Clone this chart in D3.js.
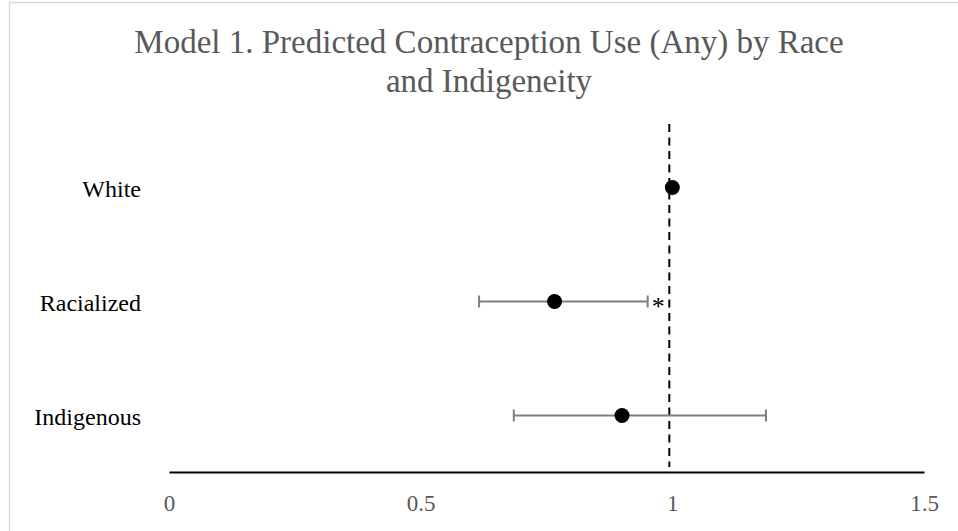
<!DOCTYPE html>
<html>
<head>
<meta charset="utf-8">
<script src="https://cdn.jsdelivr.net/npm/d3@7"></script>
<style>
  body { margin: 0; background: #fff; }
  svg { display: block; font-family: "Liberation Serif", "Times New Roman", serif; }
</style>
</head>
<body>
<svg class="forestChart"></svg>
<script>
// chart data
var categories = ["White", "Racialized", "Indigenous"];
var estimates = [1.0, 0.766, 0.90];
var lowerCI = [null, 0.616, 0.685];
var upperCI = [null, 0.951, 1.186];
var stars = ["", "*", ""];
var tickValues = [0, 0.5, 1, 1.5];
var tickLabels = ["0", "0.5", "1", "1.5"];
var titleLines = ["Model 1. Predicted Contraception Use (Any) by Race", "and Indigeneity"];
var refValue = 0.994;  // the dashed reference line, drawn by hand slightly left of 1

var data = categories.map(function(c, i) {
  return {name: c, est: estimates[i], lo: lowerCI[i], hi: upperCI[i], star: stars[i]};
});

var width = 958, height = 531;

// scales
var x = d3.scaleLinear()
    .domain([0, 1.5])
    .range([169, 924]);

var y = d3.scaleBand()
    .domain(categories)
    .range([130.5, 472.5]);

var yc = function(name) { return y(name) + y.bandwidth() / 2; };

var chart = d3.select(".forestChart")
    .attr("width", width)
    .attr("height", height);

// outer frame (runs off the right and bottom of the picture)
chart.append("rect")
    .attr("x", 9.5).attr("y", 2.5)
    .attr("width", width + 20).attr("height", height + 20)
    .attr("fill", "none")
    .attr("stroke", "#d9d9d9")
    .attr("stroke-width", 1.5);

// title
chart.append("text")
    .attr("text-anchor", "middle")
    .attr("fill", "#595959")
    .style("font-size", "33px")
  .selectAll("tspan")
    .data(titleLines)
  .enter().append("tspan")
    .attr("x", 489)
    .attr("y", function(d, i) { return 53 + i * 39; })
    .text(function(d) { return d; });

// x axis
var xAxis = g => g
    .attr("transform", "translate(0,472)")
    .call(d3.axisBottom(x).tickValues(tickValues).tickSize(0).tickFormat((d, i) => tickLabels[i]))
    .call(g => g.select(".domain").attr("stroke", "#000").attr("stroke-width", 2))
    .call(g => g.selectAll(".tick text")
        .attr("y", 39).attr("dy", null)
        .attr("fill", "#595959")
        .style("font-family", "Liberation Serif")
        .style("font-size", "23px"));

chart.append("g").call(xAxis);

// dashed reference line
chart.append("line")
    .attr("x1", x(refValue)).attr("x2", x(refValue))
    .attr("y1", 124).attr("y2", 467)
    .attr("stroke", "#000")
    .attr("stroke-width", 2)
    .attr("stroke-dasharray", "8,5.5");

// category labels
chart.append("g").selectAll("text")
    .data(data)
  .enter().append("text")
    .attr("x", 141)
    .attr("y", d => yc(d.name) + 9)
    .attr("text-anchor", "end")
    .attr("fill", "#000")
    .style("font-size", "24px")
    .text(d => d.name);

// error bars
var withCI = data.filter(d => d.lo != null);
var bars = chart.append("g")
    .attr("stroke", "#7f7f7f")
    .attr("stroke-width", 2);

bars.selectAll(".whisker")
    .data(withCI)
  .enter().append("line")
    .attr("class", "whisker")
    .attr("x1", d => x(d.lo)).attr("x2", d => x(d.hi))
    .attr("y1", d => yc(d.name)).attr("y2", d => yc(d.name));

bars.selectAll(".capLo")
    .data(withCI)
  .enter().append("line")
    .attr("class", "capLo")
    .attr("x1", d => x(d.lo)).attr("x2", d => x(d.lo))
    .attr("y1", d => yc(d.name) - 6).attr("y2", d => yc(d.name) + 6);

bars.selectAll(".capHi")
    .data(withCI)
  .enter().append("line")
    .attr("class", "capHi")
    .attr("x1", d => x(d.hi)).attr("x2", d => x(d.hi))
    .attr("y1", d => yc(d.name) - 6).attr("y2", d => yc(d.name) + 6);

// point estimates
chart.append("g").selectAll("circle")
    .data(data)
  .enter().append("circle")
    .attr("cx", d => x(d.est))
    .attr("cy", d => yc(d.name))
    .attr("r", 7.5)
    .attr("fill", "#000");

// significance stars
chart.append("g").selectAll("text")
    .data(withCI.filter(d => d.star))
  .enter().append("text")
    .attr("x", d => x(d.hi) + 4)
    .attr("y", d => yc(d.name) + 13)
    .attr("fill", "#000")
    .style("font-size", "26px")
    .text(d => d.star);
</script>
</body>
</html>
